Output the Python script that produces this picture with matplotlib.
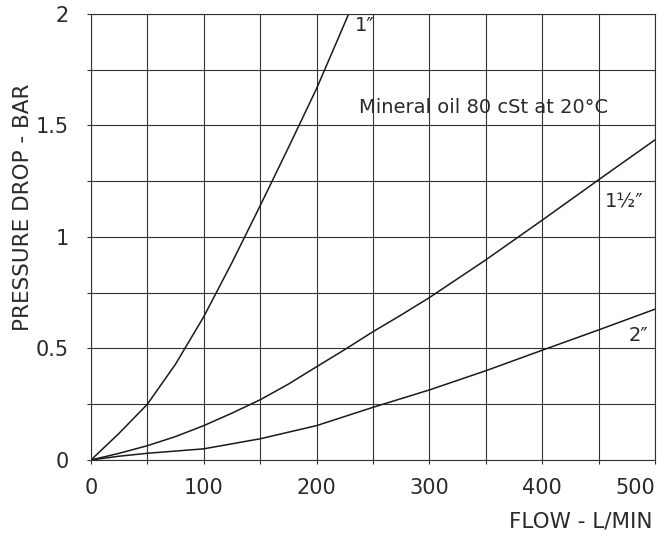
import matplotlib
matplotlib.use("Agg")
import matplotlib.pyplot as plt
import numpy as np

plt.rcParams['font.family'] = ['DejaVu Sans']

# flow (L/min) and pressure drop (bar)
flow_1in = [0, 25, 50, 75, 100, 125, 150, 175, 200, 228.5]
dp_1in = [0, 0.12, 0.25, 0.43, 0.6425, 0.885, 1.14, 1.40, 1.665, 2.0]

flow_1half = [0, 25, 50, 75, 100, 125, 150, 175, 200, 225, 250, 275, 300, 350, 400, 450, 500]
dp_1half = [0, 0.03, 0.064, 0.105, 0.154, 0.21, 0.27, 0.34, 0.418, 0.495, 0.575, 0.65,
            0.728, 0.897, 1.075, 1.256, 1.435]

flow_2in = [0, 25, 50, 100, 150, 200, 250, 300, 350, 400, 450, 500]
dp_2in = [0, 0.017, 0.03, 0.05, 0.095, 0.154, 0.236, 0.314, 0.40, 0.492, 0.583, 0.676]

x_ticks = np.arange(0, 501, 50)
y_ticks = np.arange(0, 2.01, 0.25)

INK = "#1a1a1a"
TXT = "#2a2a2a"

fig = plt.figure(figsize=(6.69, 5.33), dpi=100)
ax = fig.add_axes([0.136, 0.137, 0.843, 0.837])

for fl, dp in [(flow_1in, dp_1in), (flow_1half, dp_1half), (flow_2in, dp_2in)]:
    ax.plot(fl, dp, color=INK, lw=1.1)

ax.set_xlim(0, 500)
ax.set_ylim(0, 2)
ax.set_xticks(x_ticks)
ax.set_xticklabels([str(v) if v % 100 == 0 else "" for v in x_ticks])
ax.get_xticklabels()[-1].set_horizontalalignment("right")
ax.set_yticks(y_ticks)
ax.set_yticklabels([("%g" % v) if (v * 2) % 1 == 0 else "" for v in y_ticks])
ax.grid(True, color="#333333", lw=0.8)
for s in ax.spines.values():
    s.set_color("#333333")
    s.set_linewidth(0.8)
ax.tick_params(axis="x", length=3, width=0.8, color="#333333", pad=10,
               labelsize=15, labelcolor=TXT)
ax.tick_params(axis="y", length=3, width=0.8, color="#333333", pad=13,
               labelsize=15, labelcolor=TXT)

ax.set_ylabel("PRESSURE DROP - BAR", fontsize=15.5, color=TXT, va="center")
ax.yaxis.set_label_coords(-0.12, 0.567)
ax.set_xlabel("FLOW - L/MIN", fontsize=15.5, color=TXT, ha="right", va="center")
ax.xaxis.set_label_coords(0.996, -0.139)

ax.text(243, 1.95, "1\u2033", fontsize=14, color=TXT, ha="center", va="center")
ax.text(348, 1.58, "Mineral oil 80 cSt at 20\u00b0C", fontsize=14, color=TXT,
        ha="center", va="center")
ax.text(473, 1.157, "1\u00bd\u2033", fontsize=14, color=TXT, ha="center", va="center")
ax.text(485, 0.56, "2\u2033", fontsize=14, color=TXT, ha="center", va="center")

fig.savefig("out.png", dpi=100)
